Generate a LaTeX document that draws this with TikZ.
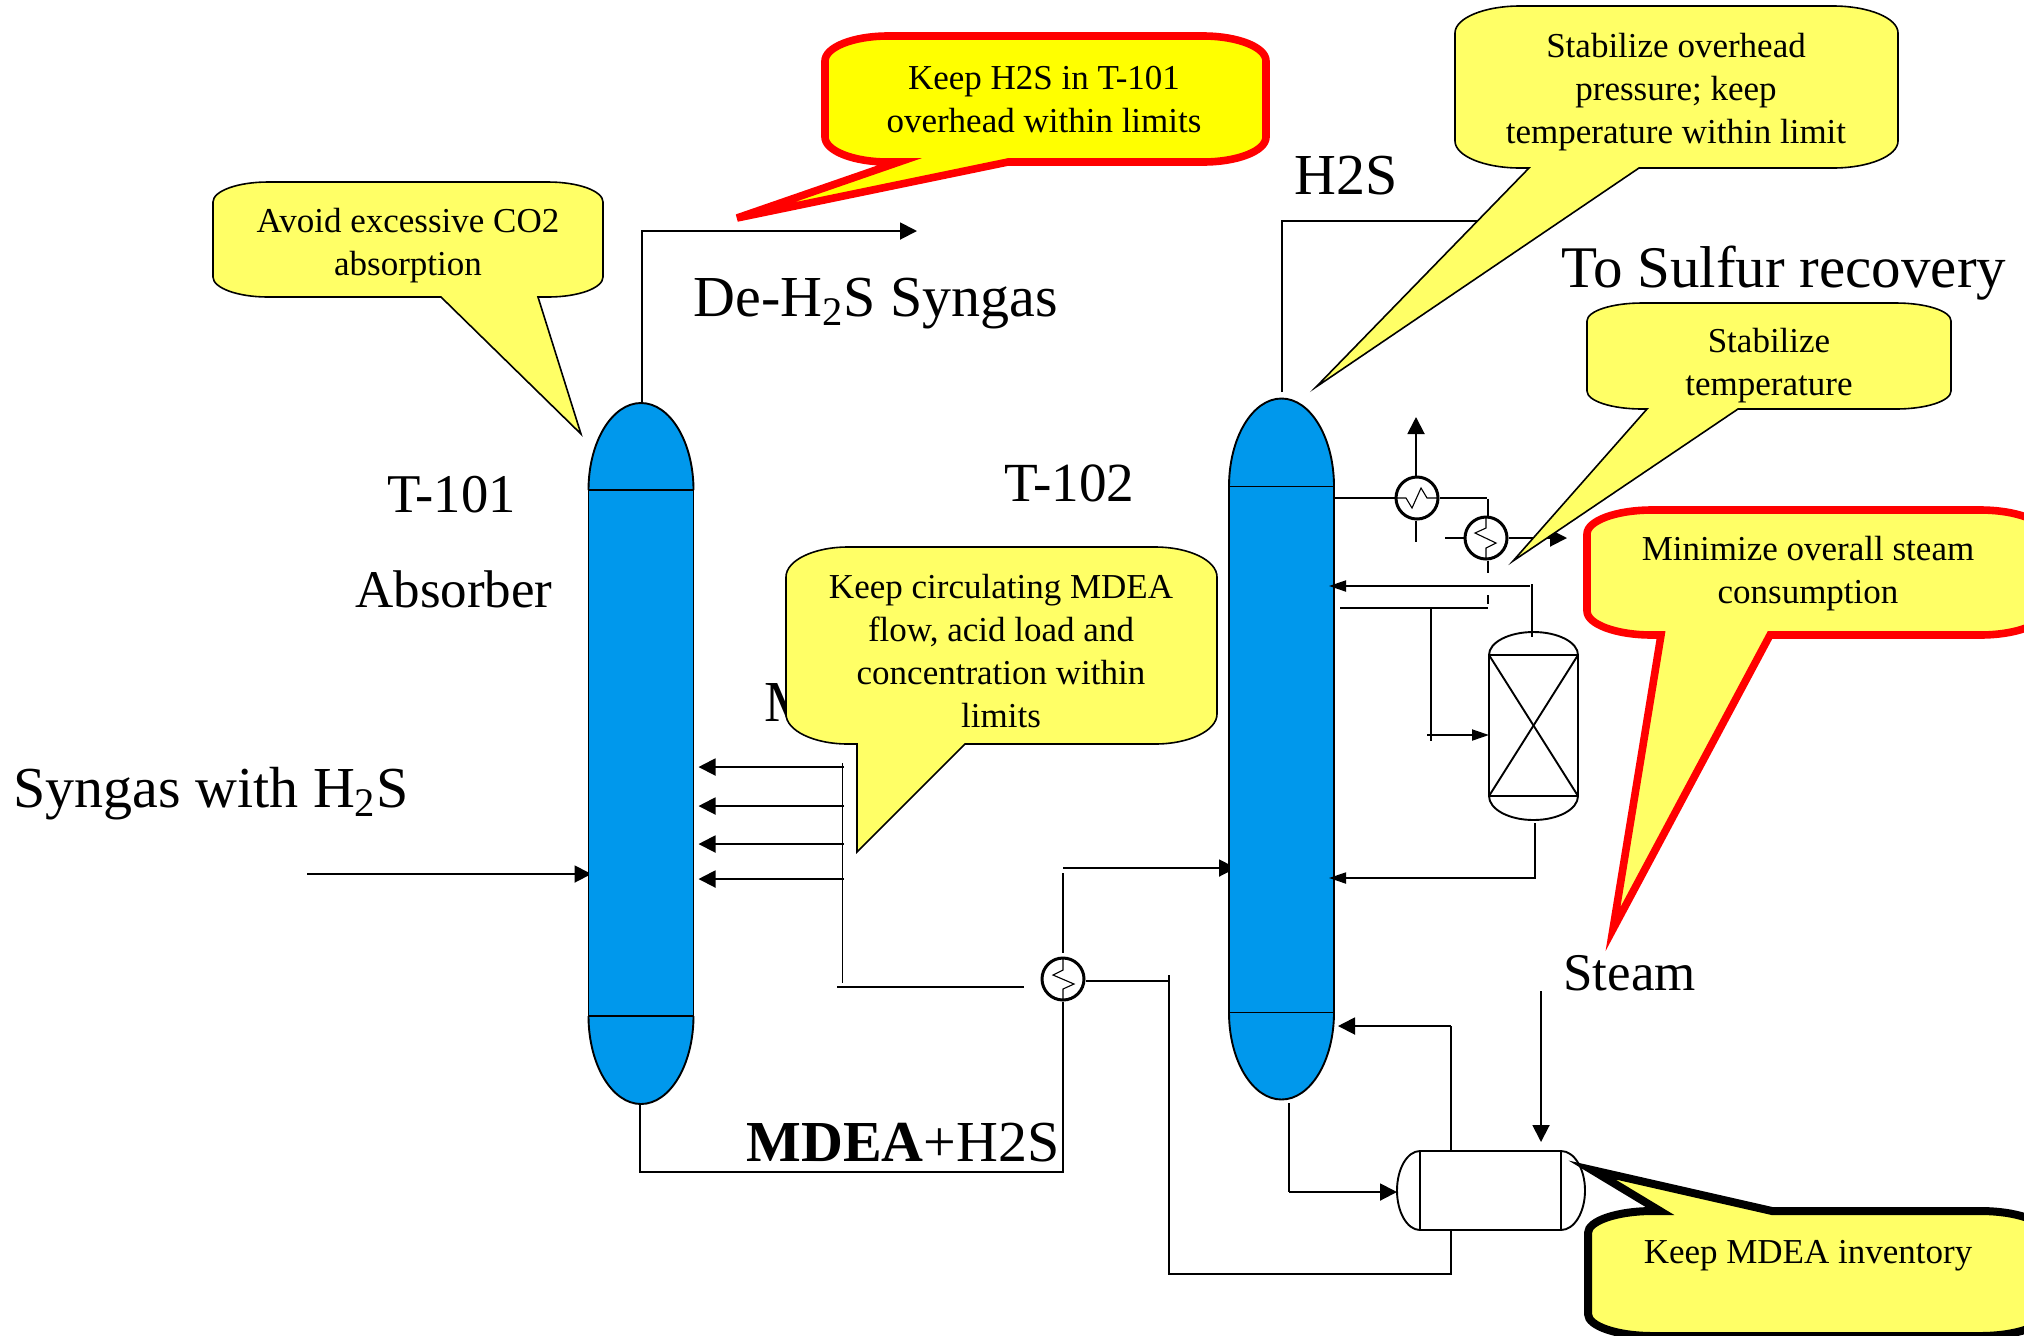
\documentclass[tikz,border=0pt]{standalone}
\usepackage{fontspec}
\setmainfont{Liberation Serif}
\usetikzlibrary{arrows.meta, positioning, backgrounds}
\definecolor{towerblue}{HTML}{0098EC}
\definecolor{notepale}{HTML}{FFFF66}
\definecolor{notebright}{HTML}{FFFF00}
\definecolor{notered}{HTML}{FF0000}
\tikzset{
  pipe/.style={line width=0.95pt},
  flow/.style={line width=0.95pt,-{Triangle[length=8.5pt,width=8.5pt]}},
  flowsmall/.style={line width=0.95pt,-{Triangle[length=8.5pt,width=5.5pt]}},
  tower/.style={rectangle,draw,fill=towerblue,line width=0.95pt,inner sep=0pt,outer sep=0pt,minimum width=52.5pt,minimum height=263pt},
  towercap/.style={draw,fill=towerblue,line width=0.95pt},
  exch/.style={circle,draw,line width=1.5pt,inner sep=0pt,minimum size=21pt},
  coil/.style={line width=0.55pt},
  equip/.style={rectangle,draw,line width=0.95pt,inner sep=0pt,outer sep=0pt},
  lbl/.style={anchor=base west,inner sep=0pt,font=\fontsize{29}{35}\selectfont},
  notetext/.style={align=center,inner sep=0pt,font=\fontsize{17.5}{21.5}\selectfont},
  bubble/.style={draw,fill=notepale,line width=0.8pt,line join=miter},
  redbubble/.style={draw=notered,fill=notepale,line width=3.8pt,line join=miter},
  blackbubble/.style={draw,fill=notepale,line width=4pt,line join=miter}
}

\begin{document}
\begin{tikzpicture}[x=0.5pt,y=-0.5pt]
\useasboundingbox (0,0) rectangle (2024,1335);
% columns
\node[tower] (t101) at (641,753) {};
\node[tower] (t102) at (1281.5,749.5) {};
\draw[towercap] (t101.north west) arc (180:360:52.5 and 87);
\draw[towercap] (t101.south west) arc (180:0:52.5 and 88);
\draw[towercap] (t102.north west) arc (180:360:52.5 and 88);
\draw[towercap] (t102.south west) arc (180:0:52.5 and 87);
\draw[pipe] (t101.north west) -- (t101.north east);
\draw[pipe] (t101.south west) -- (t101.south east);
\draw[pipe] (t102.north west) -- (t102.north east);
\draw[pipe] (t102.south west) -- (t102.south east);
% exchangers
\node[exch] (e1) at (1417,498) {};
\node[exch] (e2) at (1486,538) {};
\node[exch] (e3) at (1063,979) {};
\draw[coil] (e1.center) ++(-20,0) -- ++(9,0) -- ++(6,10) -- ++(9,-20) -- ++(6,10) -- ++(10,0);
\draw[coil] (e2.center) ++(0,-20) -- ++(0,10) -- ++(-11,5) -- ++(21,10) -- ++(-10,5) -- ++(0,10);
\draw[coil] (e3.center) ++(0,-20) -- ++(0,11) -- ++(-10,5) -- ++(21,9) -- ++(-11,5) -- ++(0,11);
% packed vessel and reboiler
\node[equip,minimum width=44.5pt,minimum height=70.5pt] (pack) at (1533.5,725.5) {};
\draw[pipe] (pack.north west) arc (180:360:44.5 and 23);
\draw[pipe] (pack.south west) arc (180:0:44.5 and 24);
\draw[pipe] (pack.north west) -- (pack.south east);
\draw[pipe] (pack.north east) -- (pack.south west);
\node[equip,minimum width=70.5pt,minimum height=39.5pt] (drum) at (1490.5,1190.5) {};
\draw[pipe] (drum.north west) arc (270:90:23 and 39.5);
\draw[pipe] (drum.north east) arc (270:450:24 and 39.5);
% T-101 lines
\coordinate (feed) at (307,874);
\coordinate (t1top) at (642,403);
\coordinate (gasout) at (917,231);
\coordinate (t1bot) at (640,1104);
\coordinate (rich) at (1063,1172);
\begin{scope}[on background layer]
\draw[flow,shorten >=-1.5pt] (feed) -- (feed -| t101.west);
\end{scope}
\draw[flow] (t1top) |- (gasout);
\draw[pipe] (t1bot) |- (rich) -- (e3.south);
% MDEA header
\coordinate (hdtop) at (842.5,763);
\coordinate (hdbot) at (842.5,983);
\coordinate (lean1) at (837,987);
\coordinate (lean2) at (1023.5,987);
\draw[pipe] (hdtop) -- (hdbot);
\draw[pipe] (lean1) -- (lean2);
\foreach \y in {767,806,844,879} {
  \coordinate (hd\y) at (844,\y);
  \draw[flow,shorten >=2.5pt] (hd\y) -- (hd\y -| t101.east);
}
% T-102 feed and bottoms
\coordinate (t2in) at (1063,868);
\coordinate (e3up) at (1063,873);
\coordinate (e3top) at (1063,953);
\coordinate (e3out) at (1169,981);
\coordinate (crossa) at (1169,975);
\coordinate (crossb) at (1169,1274);
\coordinate (drumout) at (1451,1274);
\begin{scope}[on background layer]
\draw[flow,shorten >=-3.5pt] (t2in) -- (t2in -| t102.west);
\end{scope}
\draw[pipe] (e3up) -- (e3top);
\draw[pipe] (e3.east |- e3out) -- (e3out);
\draw[pipe] (crossa) -- (crossb) -- (drumout) -- (drumout |- drum.south);
\coordinate (boil) at (1451,1026);
\coordinate (t2bot) at (1289,1103);
\coordinate (drumin) at (1289,1192);
\coordinate (drumtip) at (1397,1192);
\coordinate (steam) at (1541,991);
\draw[pipe] (drumout |- drum.north) -- (boil);
\draw[flow,shorten >=2pt] (boil) -- (boil -| t102.east);
\draw[pipe] (t2bot) -- (drumin);
\draw[flow] (drumin) -- (drumtip);
\draw[flow,shorten >=4.5pt] (steam) -- (steam |- drum.north);
% overhead
\coordinate (t2top) at (1282,392);
\coordinate (h2sline) at (1478,221);
\draw[pipe] (t2top) |- (h2sline);
\coordinate (ovh) at (1487,498);
\coordinate (e1top) at (1416,417);
\coordinate (e1low) at (1416,542);
\coordinate (e2up) at (1488,499);
\coordinate (e2stub) at (1445,538);
\coordinate (e2tip) at (1567,538);
\coordinate (e2low) at (1488,573);
\coordinate (e2dasha) at (1488,595);
\coordinate (e2dashb) at (1488,604);
\draw[pipe] (t102.east |- e1) -- (e1.west);
\draw[pipe] (e1.east) -- (ovh);
\draw[flow] (e1.north -| e1top) -- (e1top);
\draw[pipe] (e1.south -| e1low) -- (e1low);
\draw[pipe] (e2up) -- (e2.north -| e2up);
\draw[pipe] (e2.south -| e2up) -- (e2low);
\draw[pipe] (e2dasha) -- (e2dashb);
\draw[pipe] (e2stub) -- (e2.west);
\draw[flow] (e2.east) -- (e2tip);
% packed vessel piping
\coordinate (retop) at (1532,584);
\coordinate (rein) at (1530,586);
\coordinate (packtop) at (1532,637);
\coordinate (rowa) at (1340,608);
\coordinate (rowb) at (1488,608);
\coordinate (rowc) at (1431,608);
\coordinate (rowd) at (1431,741);
\coordinate (packin) at (1427,735);
\coordinate (packbot) at (1535,823);
\coordinate (packret) at (1535,878);
\draw[flowsmall,shorten >=-2.5pt] (rein) -- (t102.east |- rein);
\draw[pipe] (retop) -- (packtop);
\draw[pipe] (rowa) -- (rowb);
\draw[pipe] (rowc) -- (rowd);
\draw[flowsmall] (packin) -- (pack.west |- packin);
\draw[flowsmall,shorten >=-2.5pt] (packbot) |- (t102.east |- packret);
% stream labels
\node[lbl] (degas) at (693,316) {De-H\textsubscript{2}S Syngas};
\node[lbl] (syngas) at (13,807) {Syngas with H\textsubscript{2}S};
\node[lbl,font=\fontsize{27.3}{33}\selectfont] (t101tag) at (387,512) {T-101};
\node[lbl,font=\fontsize{26.5}{32}\selectfont] (abs) at (355,607) {Absorber};
\node[lbl,font=\fontsize{27.6}{33}\selectfont] (t102tag) at (1004,501) {T-102};
\node[lbl] (h2s) at (1294,194) {H2S};
\node[lbl,font=\fontsize{29.5}{35}\selectfont] (sulfur) at (1561,287) {To Sulfur recovery};
\node[lbl,font=\fontsize{26.5}{32}\selectfont] (steamtag) at (1563,990) {Steam};
\node[lbl] (richtag) at (746,1161) {\textbf{MDEA}+H2S};
\node[lbl] (leantag) at (764,721) {MDEA};
% callouts
\draw[bubble] (268,182) -- (548,182) arc (270:360:55 and 20) -- (603,277) arc (0:90:55 and 20) -- (538,297) -- (581,434) -- (441,297) -- (268,297) arc (90:180:55 and 20) -- (213,202) arc (180:270:55 and 20) -- cycle;
\draw[redbubble,fill=notebright] (888,36) -- (1203,36) arc (270:360:63 and 25) -- (1266,137) arc (0:90:63 and 25) -- (1008,162) -- (737,218) -- (899,162) -- (888,162) arc (90:180:63 and 25) -- (825,61) arc (180:270:63 and 25) -- cycle;
\draw[bubble] (1520,6) -- (1833,6) arc (270:360:65 and 27) -- (1898,141) arc (0:90:65 and 27) -- (1639,168) -- (1316,387) -- (1529,168) -- (1520,168) arc (90:180:65 and 27) -- (1455,33) arc (180:270:65 and 27) -- cycle;
\draw[bubble] (1642,303) -- (1896,303) arc (270:360:55 and 18) -- (1951,391) arc (0:90:55 and 18) -- (1738,409) -- (1513,561) -- (1647,409) -- (1642,409) arc (90:180:55 and 18) -- (1587,321) arc (180:270:55 and 18) -- cycle;
\draw[bubble] (848,547) -- (1155,547) arc (270:360:62 and 30) -- (1217,714) arc (0:90:62 and 30) -- (965,744) -- (857,852) -- (857,744) -- (848,744) arc (90:180:62 and 30) -- (786,577) arc (180:270:62 and 30) -- cycle;
\draw[redbubble] (1652,510) -- (1980,510) arc (270:360:65 and 24) -- (2045,611) arc (0:90:65 and 24) -- (1770,635) -- (1613,929) -- (1661,635) -- (1652,635) arc (90:180:65 and 24) -- (1587,534) arc (180:270:65 and 24) -- cycle;
\draw[blackbubble] (1653,1211) -- (1660,1211) -- (1592,1170) -- (1772,1211) -- (1980,1211) arc (270:360:65 and 22) -- (2045,1314) arc (0:90:65 and 22) -- (1653,1336) arc (90:180:65 and 22) -- (1588,1233) arc (180:270:65 and 22) -- cycle;
% callout texts
\node[notetext] (n1) at (408,246) {Avoid excessive CO2\\absorption};
\node[notetext] (n2) at (1044,100) {Keep H2S in T-101\\overhead within limits};
\node[notetext] (n3) at (1676,92) {Stabilize overhead\\pressure; keep\\temperature within limit};
\node[notetext] (n4) at (1769,366) {Stabilize\\temperature};
\node[notetext] (n5) at (1001,651) {Keep circulating MDEA\\flow, acid load and\\concentration within\\limits};
\node[notetext] (n6) at (1808,574) {Minimize overall steam\\consumption};
\node[notetext] (n7) at (1808,1256) {Keep MDEA inventory};
\end{tikzpicture}
\end{document}
